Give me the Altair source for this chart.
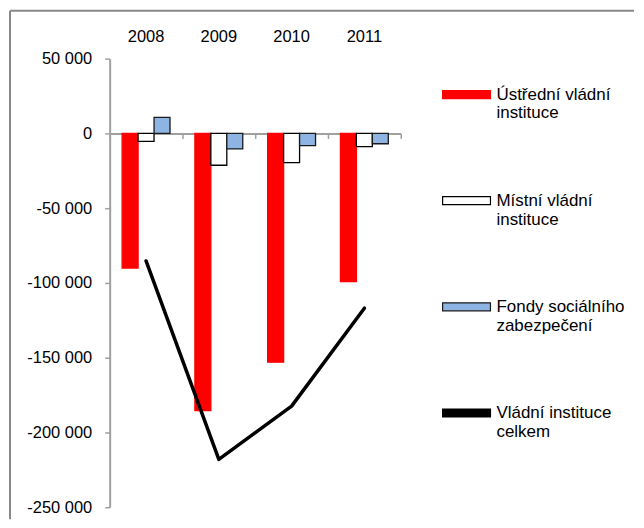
import altair as alt
import pandas as pd

years = ["2008", "2009", "2010", "2011"]
names = [
    "Ústřední vládní instituce",
    "Místní vládní instituce",
    "Fondy sociálního zabezpečení",
    "Vládní instituce celkem",
]
central = [-90000, -185300, -153000, -99100]
local = [-5300, -21300, -19600, -8900]
social = [10700, -10400, -8200, -6900]
total = [-85300, -218000, -182400, -116900]
y_ticks = [-250000, -200000, -150000, -100000, -50000, 0, 50000]

fills = ["#FF0000", "#FFFFFF", "#8EB4E3", "#000000"]
strokes = ["#FF0000", "#000000", "#1A1A1A", "#000000"]

rows = []
for vals, name in zip([central, local, social, total], names):
    for yr, v in zip(years, vals):
        rows.append({"year": yr, "series": name, "value": v})
df = pd.DataFrame(rows)

W, H = 292, 450
FONT = "Liberation Sans"
GRAY = "#A0A0A0"

x_scale = alt.Scale(domain=years, paddingInner=0, paddingOuter=0)
y_scale = alt.Scale(domain=[-250000, 50000], nice=False, zero=True)

y_axis = alt.Axis(
    title=None, values=y_ticks, grid=False,
    domainColor=GRAY, domainWidth=2, tickColor=GRAY, tickWidth=1.5, tickSize=5,
    labelFont=FONT, labelFontSize=16.5, labelColor="black", labelPadding=13,
    labelExpr="replace(replace(format(datum.value, ',d'), ',', ' '), '\u2212', '-')",
)

legend = alt.Legend(
    orient="none", legendX=333, legendY=11, title=None, direction="vertical",
    symbolType="M-1,-0.167H1V0.167H-1Z", symbolSize=2304, symbolStrokeWidth=1.2,
    symbolOpacity=1,
    labelFont=FONT, labelFontSize=17, labelColor="black", labelOffset=5,
    labelBaseline="middle", rowPadding=54.5, padding=0, labelLimit=300,
    labelExpr="[join(slice(split(datum.label, ' '), 0, 2), ' '), join(slice(split(datum.label, ' '), 2), ' ')]",
)

base = alt.Chart(df)

bars = base.transform_filter(
    alt.FieldOneOfPredicate(field="series", oneOf=names[:3])
).mark_bar(strokeWidth=1.3).encode(
    x=alt.X("year:N", scale=x_scale, sort=years, axis=alt.Axis(
        orient="top", title=None, domain=False, ticks=False, labelAngle=0,
        labelFont=FONT, labelFontSize=16.5, labelColor="black", labelPadding=14)),
    xOffset=alt.XOffset("series:N", sort=names[:3],
                        scale=alt.Scale(domain=names[:3], paddingInner=0, paddingOuter=0.78)),
    y=alt.Y("value:Q", scale=y_scale, stack=None, axis=y_axis),
    color=alt.Color("series:N", scale=alt.Scale(domain=names, range=fills), legend=legend),
    stroke=alt.Stroke("series:N", scale=alt.Scale(domain=names, range=strokes), legend=legend),
)

line = base.transform_filter(
    alt.datum.series == names[3]
).mark_line(color="black", strokeWidth=3.5, strokeJoin="round", strokeCap="round").encode(
    x=alt.X("year:N", scale=x_scale, sort=years, axis=alt.Axis(
        orient="bottom", offset=-375, title=None, labels=False,
        domainColor=GRAY, domainWidth=2, tickColor=GRAY, tickWidth=1.5, tickSize=5,
        tickBand="extent")),
    y=alt.Y("value:Q", scale=y_scale, axis=y_axis),
)

frame_df = pd.DataFrame({"k": [0]})
frame_left = alt.Chart(frame_df).mark_rule(color="#888888", strokeWidth=2).encode(
    x=alt.value(-100), y=alt.value(-48), y2=alt.value(462))
frame_top = alt.Chart(frame_df).mark_rule(color="#888888", strokeWidth=2).encode(
    x=alt.value(-100), x2=alt.value(526), y=alt.value(-48))

chart = alt.layer(frame_left, frame_top, bars, line).resolve_axis(
    x="independent"
).properties(
    width=W, height=H, padding=1, background="white"
).configure_view(stroke=None)

chart.save("out.html", embed_options={"renderer": "svg", "actions": False})
